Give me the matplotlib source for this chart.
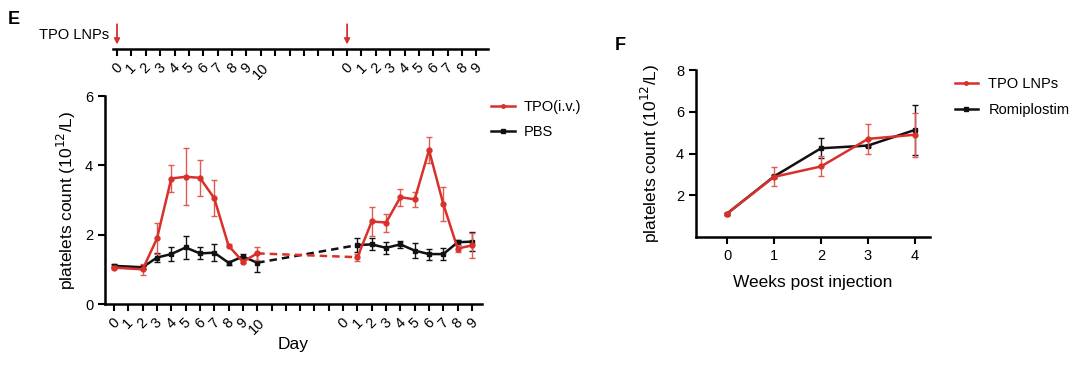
import numpy as np
import matplotlib
matplotlib.use("Agg")
import matplotlib.pyplot as plt

plt.rcParams['font.family'] = ['Liberation Sans', 'DejaVu Sans']

RED = '#d8302a'
BLACK = '#111111'

# ---------------- panel E data ----------------
# x positions: day 0..10 of first course, then 16 + day of second course
e_tick_pos = list(range(0, 26))
e_tick_lab = [str(d) for d in range(0, 11)] + [''] * 5 + [str(d) for d in range(0, 10)]
inject_pos = [0, 16]

e_x1 = [0, 2, 3, 4, 5, 6, 7, 8, 9, 10]
tpo_y1 = [1.05, 1.00, 1.89, 3.62, 3.67, 3.64, 3.05, 1.68, 1.22, 1.46]
tpo_e1 = [0.05, 0.15, 0.45, 0.40, 0.82, 0.52, 0.52, 0.04, 0.05, 0.19]
pbs_y1 = [1.10, 1.06, 1.34, 1.44, 1.63, 1.46, 1.48, 1.19, 1.37, 1.19]
pbs_e1 = [0.04, 0.04, 0.12, 0.20, 0.34, 0.17, 0.25, 0.06, 0.06, 0.28]

e_x2 = [17, 18, 19, 20, 21, 22, 23, 24, 25]
tpo_y2 = [1.35, 2.38, 2.35, 3.08, 3.02, 4.44, 2.88, 1.60, 1.69]
tpo_e2 = [0.10, 0.43, 0.26, 0.25, 0.21, 0.38, 0.50, 0.10, 0.35]
pbs_y2 = [1.70, 1.72, 1.62, 1.72, 1.54, 1.44, 1.44, 1.78, 1.80]
pbs_e2 = [0.19, 0.17, 0.17, 0.10, 0.21, 0.16, 0.18, 0.07, 0.28]

# ---------------- panel F data ----------------
weeks = [0, 1, 2, 3, 4]
lnp_y = [1.12, 2.88, 3.38, 4.70, 4.90]
lnp_e = [0.05, 0.46, 0.48, 0.72, 1.05]
rom_y = [1.12, 2.90, 4.25, 4.38, 5.13]
rom_e = [0.05, 0.05, 0.48, 0.05, 1.18]

fig = plt.figure(figsize=(10.8, 3.66), dpi=100)

tick_kw = dict(direction='out', width=1.5, length=5, labelsize=10.5)

# ---------------- timeline axis (top) ----------------
axt = fig.add_axes([113 / 1080, 1 - 49 / 366, 375 / 1080, 29 / 366])
axt.set_xlim(-0.28, 25.8)
axt.set_ylim(0, 1)
for s in ['top', 'left', 'right']:
    axt.spines[s].set_visible(False)
axt.spines['bottom'].set_linewidth(1.8)
axt.set_yticks([])
axt.set_xticks(e_tick_pos)
axt.set_xticklabels(e_tick_lab, rotation=45, ha='center')
axt.tick_params(axis='x', **tick_kw)
axt.patch.set_alpha(0)
for p in inject_pos:
    axt.annotate('', xy=(p, 0.06), xytext=(p, 0.95),
                 arrowprops=dict(arrowstyle='-|>', color=RED, lw=1.3,
                                 mutation_scale=8))
fig.text(39 / 1080, 1 - 35 / 366, 'TPO LNPs', fontsize=10.5, va='center')
fig.text(8 / 1080, 1 - 20 / 366, 'E', fontsize=13, fontweight='bold', va='center')

# ---------------- panel E main ----------------
axe = fig.add_axes([105 / 1080, 1 - 304 / 366, 377 / 1080, 208 / 366])
axe.set_xlim(-0.63, 25.7)
axe.set_ylim(0, 6)

err_kw = dict(capsize=2.2, elinewidth=1.0, capthick=1.0, lw=1.8, ms=3.5)
axe.errorbar(e_x1, pbs_y1, yerr=pbs_e1, color=BLACK, marker='s', **err_kw, zorder=3)
axe.errorbar(e_x2, pbs_y2, yerr=pbs_e2, color=BLACK, marker='s', **err_kw, zorder=3)
axe.errorbar(e_x1, tpo_y1, yerr=tpo_e1, color=RED, marker='o', ecolor='#e05a50',
             **err_kw, zorder=4)
axe.errorbar(e_x2, tpo_y2, yerr=tpo_e2, color=RED, marker='o', ecolor='#e05a50',
             **err_kw, zorder=4)
# dashed bridges between the two courses
axe.plot([e_x1[-1], e_x2[0]], [pbs_y1[-1], pbs_y2[0]], color=BLACK, lw=1.8,
         ls=(0, (3, 2)))
axe.plot([e_x1[-1], e_x2[0]], [tpo_y1[-1], tpo_y2[0]], color=RED, lw=1.8,
         ls=(0, (3, 2)))

for s in ['top', 'right']:
    axe.spines[s].set_visible(False)
for s in ['bottom', 'left']:
    axe.spines[s].set_linewidth(1.8)
axe.set_xticks(e_tick_pos)
axe.set_xticklabels(e_tick_lab, rotation=45, ha='center')
axe.set_yticks([0, 2, 4, 6])
axe.tick_params(axis='both', **tick_kw)
axe.set_xlabel('Day', fontsize=12.5, labelpad=0)
axe.set_ylabel('platelets count (10$^{12}$/L)', fontsize=12.5, labelpad=5)

h1, = axe.plot([], [], color=RED, marker='o', ms=2.5, lw=1.8)
h2, = axe.plot([], [], color=BLACK, marker='s', ms=3, lw=1.8)
axe.legend([h1, h2], ['TPO(i.v.)', 'PBS'], loc='upper left',
           bbox_to_anchor=(0.99, 1.045), frameon=False, fontsize=10.5,
           handlelength=1.6, handletextpad=0.6, labelspacing=0.8)

# ---------------- panel F ----------------
axf = fig.add_axes([696 / 1080, 1 - 237 / 366, 234 / 1080, 167 / 366])
axf.set_xlim(-0.66, 4.32)
axf.set_ylim(0, 8)
axf.errorbar(weeks, rom_y, yerr=rom_e, color=BLACK, marker='s', **err_kw, zorder=3)
axf.errorbar(weeks, lnp_y, yerr=lnp_e, color=RED, marker='o', ecolor='#e05a50',
             **err_kw, zorder=4)
for s in ['top', 'right']:
    axf.spines[s].set_visible(False)
for s in ['bottom', 'left']:
    axf.spines[s].set_linewidth(1.8)
axf.set_xticks(weeks)
axf.set_yticks([2, 4, 6, 8])
axf.tick_params(axis='both', **tick_kw)
axf.set_xlabel('Weeks post injection', fontsize=12.5, labelpad=9)
axf.set_ylabel('platelets count (10$^{12}$/L)', fontsize=12.5, labelpad=10)

g1, = axf.plot([], [], color=RED, marker='o', ms=2.5, lw=1.8)
g2, = axf.plot([], [], color=BLACK, marker='s', ms=3, lw=1.8)
axf.legend([g1, g2], ['TPO LNPs', 'Romiplostim'], loc='upper left',
           bbox_to_anchor=(1.05, 1.035), frameon=False, fontsize=10.5,
           handlelength=1.6, handletextpad=0.7, labelspacing=0.8)
fig.text(615 / 1080, 1 - 45 / 366, 'F', fontsize=13, fontweight='bold', va='center')

fig.savefig('out.png', dpi=100)
